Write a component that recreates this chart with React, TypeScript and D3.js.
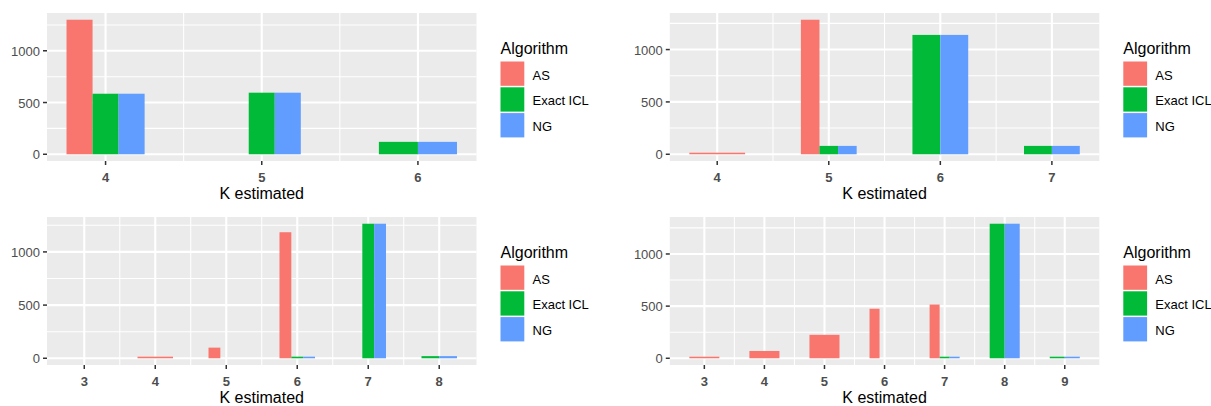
import React from "react";
import * as d3 from "d3";

const ALGOS = ["AS", "Exact ICL", "NG"];
const COLORS = ["#F8766D", "#00BA38", "#619CFF"];

// Top-left panel
const tlK = [4, 5, 6];
const tlAS: (number | null)[] = [1300, 0, null];
const tlICL: (number | null)[] = [585, 595, 120];
const tlNG: (number | null)[] = [585, 595, 120];

// Top-right panel
const trK = [4, 5, 6, 7];
const trAS: (number | null)[] = [15, 1285, null, null];
const trICL: (number | null)[] = [null, 80, 1140, 80];
const trNG: (number | null)[] = [null, 80, 1140, 80];

// Bottom-left panel
const blK = [3, 4, 5, 6, 7, 8];
const blAS: (number | null)[] = [0, 15, 100, 1185, 0, null];
const blICL: (number | null)[] = [null, null, 0, 15, 1265, 20];
const blNG: (number | null)[] = [null, null, 0, 15, 1265, 20];

// Bottom-right panel
const brK = [3, 4, 5, 6, 7, 8, 9];
const brAS: (number | null)[] = [15, 70, 225, 475, 515, null, null];
const brICL: (number | null)[] = [null, null, null, 0, 15, 1290, 15];
const brNG: (number | null)[] = [null, null, null, 0, 15, 1290, 15];

const yTicks = [0, 500, 1000];
const yMinor = [250, 750, 1250];
const xTitle = "K estimated";
const legendTitle = "Algorithm";

const FONT = "'Liberation Sans', Arial, sans-serif";

type PanelProps = {
  k: number[];
  series: (number | null)[][];
  ox: number;
  oy: number;
};

function Panel({ k, series, ox, oy }: PanelProps) {
  const px0 = 47, px1 = 476.5, py0 = 13, py1 = 161;
  const lo = (d3.min(k) as number) - 0.25;
  const hi = (d3.max(k) as number) + 0.25;
  const pad = (hi - lo) * 0.05;
  const x = d3.scaleLinear().domain([lo - pad, hi + pad]).range([px0, px1]);
  const max = d3.max(series.flat().map((v) => (v == null ? 0 : v))) as number;
  const y = d3.scaleLinear().domain([-0.05 * max, 1.05 * max]).range([py1, py0]);

  const bars: { x0: number; x1: number; y0: number; y1: number; color: string; key: string }[] = [];
  k.forEach((kv, i) => {
    const present = series
      .map((s, j) => ({ j, v: s[i] }))
      .filter((d) => d.v !== null) as { j: number; v: number }[];
    const w = 0.5 / present.length;
    present.forEach((d, idx) => {
      const xl = kv - 0.25 + idx * w;
      bars.push({
        x0: x(xl),
        x1: x(xl + w),
        y0: y(0),
        y1: y(d.v),
        color: COLORS[d.j],
        key: `${kv}-${d.j}`,
      });
    });
  });
  const minorX = k.slice(0, -1).map((v) => v + 0.5);
  const yMinorIn = yMinor.filter((v) => v <= 1.05 * max);
  const cy = (py0 + py1) / 2;
  const legX = 500.5;
  const keyTop = cy - 25.5;
  const pitch = 25.8;

  return (
    <g transform={`translate(${ox},${oy})`}>
      <rect x={px0} y={py0} width={px1 - px0} height={py1 - py0} fill="#EBEBEB" />
      {yMinorIn.map((v) => (
        <line key={"ym" + v} x1={px0} x2={px1} y1={y(v)} y2={y(v)} stroke="#fff" strokeWidth={1.05} />
      ))}
      {minorX.map((v) => (
        <line key={"xm" + v} x1={x(v)} x2={x(v)} y1={py0} y2={py1} stroke="#fff" strokeWidth={1.05} />
      ))}
      {yTicks.map((v) => (
        <line key={"yM" + v} x1={px0} x2={px1} y1={y(v)} y2={y(v)} stroke="#fff" strokeWidth={2.1} />
      ))}
      {k.map((v) => (
        <line key={"xM" + v} x1={x(v)} x2={x(v)} y1={py0} y2={py1} stroke="#fff" strokeWidth={2.1} />
      ))}
      {bars.map((b) => (
        <rect key={b.key} x={b.x0} y={Math.min(b.y0, b.y1)} width={b.x1 - b.x0} height={Math.abs(b.y0 - b.y1)} fill={b.color} />
      ))}
      {yTicks.map((v) => (
        <g key={"yt" + v}>
          <line x1={px0 - 4} x2={px0} y1={y(v)} y2={y(v)} stroke="#333333" strokeWidth={1.5} />
          <text x={px0 - 7} y={y(v) + 5} textAnchor="end" fontFamily={FONT} fontSize={13} fill="#4D4D4D">
            {v}
          </text>
        </g>
      ))}
      {k.map((v) => (
        <g key={"xt" + v}>
          <line x1={x(v)} x2={x(v)} y1={py1} y2={py1 + 4} stroke="#333333" strokeWidth={1.5} />
          <text x={x(v)} y={py1 + 20.5} textAnchor="middle" fontFamily={FONT} fontSize={13} fontWeight="bold" fill="#4D4D4D">
            {v}
          </text>
        </g>
      ))}
      <text x={(px0 + px1) / 2} y={py1 + 38.3} textAnchor="middle" fontFamily={FONT} fontSize={16} fill="#000">
        {xTitle}
      </text>
      <text x={legX} y={keyTop - 7.5} fontFamily={FONT} fontSize={16} fill="#000">
        {legendTitle}
      </text>
      {ALGOS.map((a, i) => (
        <g key={a}>
          <rect x={legX} y={keyTop + i * pitch} width={23.8} height={24.3} fill={COLORS[i]} />
          <text x={legX + 32} y={keyTop + i * pitch + 12.15 + 6} fontFamily={FONT} fontSize={13} fill="#000">
            {a}
          </text>
        </g>
      ))}
    </g>
  );
}

export default function App() {
  return (
    <svg
      width={1211}
      height={406}
      style={{ position: "absolute", left: 0, top: 0, background: "#fff" }}
    >
      <rect width={1211} height={406} fill="#fff" />
      <Panel k={tlK} series={[tlAS, tlICL, tlNG]} ox={0} oy={0} />
      <Panel k={trK} series={[trAS, trICL, trNG]} ox={622.8} oy={0} />
      <Panel k={blK} series={[blAS, blICL, blNG]} ox={0} oy={204} />
      <Panel k={brK} series={[brAS, brICL, brNG]} ox={622.8} oy={204} />
    </svg>
  );
}
